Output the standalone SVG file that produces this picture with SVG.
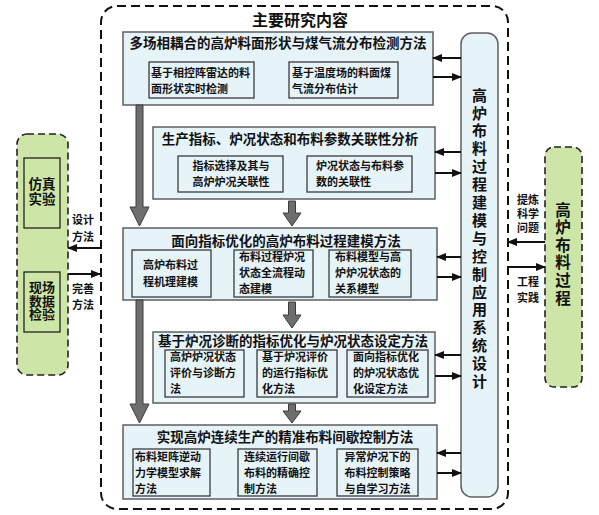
<svg xmlns="http://www.w3.org/2000/svg" width="599" height="515" viewBox="0 0 599 515">
<defs>
<style>
text{font-family:"Noto Sans CJK SC","Noto Sans CJK JP",sans-serif;font-weight:bold;fill:#111;}
.box{fill:#e6f3f9;stroke:#5f5f5f;stroke-width:1.5;}
.inner{fill:#e6f3f9;stroke:#3a3a3a;stroke-width:1.3;}
.ttl{font-size:13.5px;text-anchor:middle;}
.it{font-size:11px;}
.itc{font-size:11px;text-anchor:middle;}
.lab{font-size:11px;text-anchor:middle;}
.green{fill:#cde6a7;stroke:#222;stroke-width:1.6;stroke-dasharray:7,4;}
.bar{stroke:#111;stroke-width:2;fill:none;}
.gray{fill:#6e6e6e;stroke:#3c3c3c;stroke-width:1;}
</style>
<marker id="ah" markerUnits="userSpaceOnUse" markerWidth="10" markerHeight="10" viewBox="0 0 10 10" refX="9" refY="5" orient="auto">
<path d="M0,1 L10,5 L0,9 z" fill="#111"/>
</marker>
</defs>

<g id="outer">
<rect x="101" y="6" width="407" height="503" rx="16" fill="none" stroke="#111" stroke-width="2" stroke-dasharray="9,5"/>
<text x="300" y="26" style="font-size:16px;text-anchor:middle;">主要研究内容</text>
</g>

<g id="box1">
<rect class="box" x="123" y="32" width="310" height="73"/>
<text class="ttl" x="278" y="47.5">多场相耦合的高炉料面形状与煤气流分布检测方法</text>
<rect class="inner" x="149" y="62" width="105" height="36"/>
<text class="it" x="151" y="76.5"><tspan>基于相控阵雷达的料</tspan><tspan x="151" dy="16">面形状实时检测</tspan></text>
<rect class="inner" x="289" y="62" width="109" height="36"/>
<text class="it" x="292" y="76.5"><tspan>基于温度场的料面煤</tspan><tspan x="292" dy="16">气流分布估计</tspan></text>
</g>

<g id="box2">
<rect class="box" x="153" y="127" width="282" height="72"/>
<text class="ttl" x="290" y="144">生产指标、炉况状态和布料参数关联性分析</text>
<rect class="inner" x="178" y="156" width="105" height="36"/>
<text class="itc" x="231" y="170"><tspan>指标选择及其与</tspan><tspan x="231" dy="16">高炉炉况关联性</tspan></text>
<rect class="inner" x="307" y="156" width="105" height="36"/>
<text class="it" x="316" y="170"><tspan>炉况状态与布料参</tspan><tspan x="316" dy="16">数的关联性</tspan></text>
</g>

<g id="box3">
<rect class="box" x="123" y="228" width="314" height="72"/>
<text class="ttl" x="286" y="246">面向指标优化的高炉布料过程建模方法</text>
<rect class="inner" x="132" y="250" width="79" height="47"/>
<text class="it" x="143" y="269"><tspan>高炉布料过</tspan><tspan x="143" dy="16.5">程机理建模</tspan></text>
<rect class="inner" x="234" y="250" width="79" height="47"/>
<text class="it" x="239" y="261"><tspan>布料过程炉况</tspan><tspan x="239" dy="16">状态全流程动</tspan><tspan x="239" dy="16">态建模</tspan></text>
<rect class="inner" x="329" y="250" width="82" height="47"/>
<text class="it" x="335" y="261"><tspan>布料模型与高</tspan><tspan x="335" dy="16">炉炉况状态的</tspan><tspan x="335" dy="16">关系模型</tspan></text>
</g>

<g id="box4">
<rect class="box" x="153" y="332" width="282" height="71"/>
<text class="ttl" x="293" y="346">基于炉况诊断的指标优化与炉况状态设定方法</text>
<rect class="inner" x="165" y="350" width="79" height="47"/>
<text class="it" x="170" y="361"><tspan>高炉炉况状态</tspan><tspan x="170" dy="16">评价与诊断方</tspan><tspan x="170" dy="16">法</tspan></text>
<rect class="inner" x="257" y="350" width="80" height="47"/>
<text class="it" x="262" y="361"><tspan>基于炉况评价</tspan><tspan x="262" dy="16">的运行指标优</tspan><tspan x="262" dy="16">化方法</tspan></text>
<rect class="inner" x="347" y="350" width="81" height="47"/>
<text class="it" x="353" y="361"><tspan>面向指标优化</tspan><tspan x="353" dy="16">的炉况状态优</tspan><tspan x="353" dy="16">化设定方法</tspan></text>
</g>

<g id="box5">
<rect class="box" x="123" y="425" width="314" height="74"/>
<text class="ttl" x="285" y="441.5">实现高炉连续生产的精准布料间歇控制方法</text>
<rect class="inner" x="133" y="449" width="77" height="47"/>
<text class="it" x="135" y="461"><tspan>布料矩阵逆动</tspan><tspan x="135" dy="16">力学模型求解</tspan><tspan x="135" dy="16">方法</tspan></text>
<rect class="inner" x="238" y="449" width="79" height="47"/>
<text class="it" x="244" y="461"><tspan>连续运行间歇</tspan><tspan x="244" dy="16">布料的精确控</tspan><tspan x="244" dy="16">制方法</tspan></text>
<rect class="inner" x="337" y="449" width="81" height="47"/>
<text class="itc" x="377.5" y="461"><tspan>异常炉况下的</tspan><tspan x="377.5" dy="16">布料控制策略</tspan><tspan x="377.5" dy="16">与自学习方法</tspan></text>
</g>

<g id="system">
<rect x="461" y="33" width="37" height="464" rx="11" fill="#e6f3f9" stroke="#5f5f5f" stroke-width="1.5"/>
<text x="479.5" y="87.5" style="font-size:15px;writing-mode:vertical-rl;letter-spacing:2.9px;">高炉布料过程建模与控制应用系统设计</text>
</g>

<g id="left">
<rect class="green" x="17" y="134" width="51" height="241" rx="10"/>
<rect x="24" y="158" width="36" height="70" fill="none" stroke="#222" stroke-width="1.3"/>
<text style="font-size:13.5px;text-anchor:middle;" x="42" y="189"><tspan x="42">仿真</tspan><tspan x="42" dy="14.5">实验</tspan></text>
<rect x="24" y="272" width="36" height="60" fill="none" stroke="#222" stroke-width="1.3"/>
<text style="font-size:13px;text-anchor:middle;" x="42" y="292"><tspan x="42">现场</tspan><tspan x="42" dy="13.5">数据</tspan><tspan x="42" dy="13.5">检验</tspan></text>
</g>

<g id="right">
<rect class="green" x="545" y="147" width="37" height="240" rx="9"/>
<text x="563" y="202" style="font-size:15.5px;writing-mode:vertical-rl;letter-spacing:2.1px;">高炉布料过程</text>
</g>

<g id="connectors">
<path class="gray" d="M136,105 H143 V207 H149 L139.5,226 L130,207 H136 Z"/>
<path class="gray" d="M136,300 H143 V404 H149 L139.5,423 L130,404 H136 Z"/>
<path class="gray" d="M288.5,201 H295.5 V213 H301 L292,226 L283,213 H288.5 Z"/>
<path class="gray" d="M288.5,302 H295.5 V315 H301 L292,328 L283,315 H288.5 Z"/>
<path class="gray" d="M288.5,404 H295.5 V411 H301 L292,423 L283,411 H288.5 Z"/>

<line class="bar" x1="461" y1="58" x2="433" y2="58" marker-end="url(#ah)"/>
<line class="bar" x1="433" y1="77" x2="461" y2="77" marker-end="url(#ah)"/>
<line class="bar" x1="461" y1="152" x2="435" y2="152" marker-end="url(#ah)"/>
<line class="bar" x1="435" y1="173" x2="461" y2="173" marker-end="url(#ah)"/>
<line class="bar" x1="461" y1="257" x2="437" y2="257" marker-end="url(#ah)"/>
<line class="bar" x1="437" y1="277" x2="461" y2="277" marker-end="url(#ah)"/>
<line class="bar" x1="461" y1="355" x2="435" y2="355" marker-end="url(#ah)"/>
<line class="bar" x1="435" y1="376" x2="461" y2="376" marker-end="url(#ah)"/>
<line class="bar" x1="461" y1="453" x2="437" y2="453" marker-end="url(#ah)"/>
<line class="bar" x1="437" y1="473" x2="461" y2="473" marker-end="url(#ah)"/>

<line class="bar" x1="100" y1="248" x2="68" y2="248" marker-end="url(#ah)"/>
<line class="bar" x1="68" y1="274" x2="100" y2="274" marker-end="url(#ah)"/>
<line class="bar" x1="545" y1="242" x2="508" y2="242" marker-end="url(#ah)"/>
<line class="bar" x1="508" y1="267" x2="545" y2="267" marker-end="url(#ah)"/>

<text class="lab" x="83" y="224"><tspan x="83">设计</tspan><tspan x="83" dy="16.5">方法</tspan></text>
<text class="lab" x="83" y="293"><tspan x="83">完善</tspan><tspan x="83" dy="16">方法</tspan></text>
<text class="lab" x="528" y="204"><tspan x="528">提炼</tspan><tspan x="528" dy="14">科学</tspan><tspan x="528" dy="14">问题</tspan></text>
<text class="lab" x="528" y="286"><tspan x="528">工程</tspan><tspan x="528" dy="16">实践</tspan></text>
</g>
</svg>
